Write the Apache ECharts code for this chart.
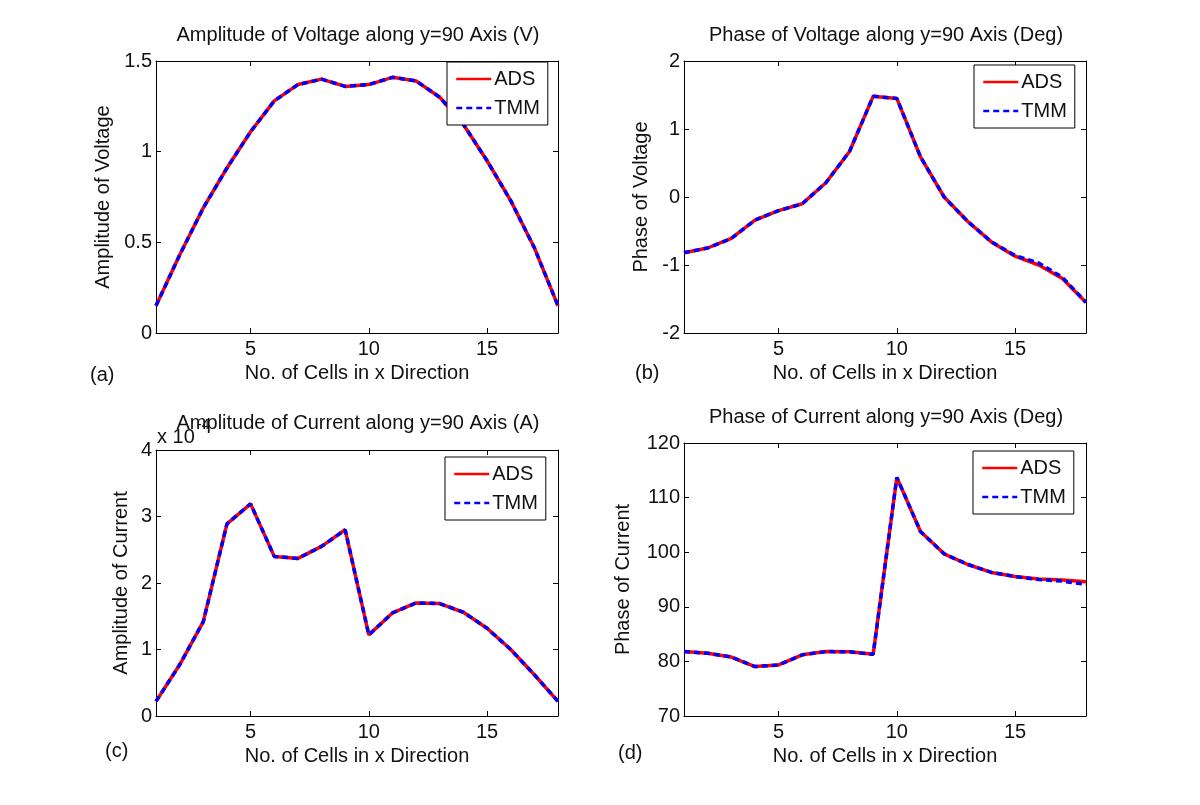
<!DOCTYPE html>
<html>
<head>
<meta charset="utf-8">
<script src="https://cdn.jsdelivr.net/npm/echarts@6/dist/echarts.min.js"></script>
<style>
html,body{margin:0;padding:0;background:#fff;}
#main{width:1200px;height:805px;}
</style>
</head>
<body>
<div id="main"></div>
<script>
// ---- data ----
const cells = [1,2,3,4,5,6,7,8,9,10,11,12,13,14,15,16,17,18];
const xTicks = [5,10,15];

// (a) Amplitude of Voltage (V)
const voltAmpADS = [0.15,0.43,0.69,0.91,1.11,1.28,1.37,1.40,1.36,1.37,1.41,1.39,1.30,1.15,0.95,0.73,0.47,0.15];
const voltAmpTMM = [0.15,0.43,0.69,0.91,1.11,1.28,1.37,1.40,1.36,1.37,1.41,1.39,1.30,1.15,0.95,0.73,0.47,0.15];

// (b) Phase of Voltage (Deg)
const voltPhaseADS = [-0.82,-0.75,-0.61,-0.34,-0.20,-0.10,0.21,0.67,1.48,1.45,0.59,0.00,-0.36,-0.66,-0.87,-1.00,-1.20,-1.55];
const voltPhaseTMM = [-0.82,-0.75,-0.61,-0.34,-0.20,-0.10,0.21,0.67,1.48,1.45,0.59,0.00,-0.36,-0.66,-0.86,-0.97,-1.18,-1.55];

// (c) Amplitude of Current (A), in units of 1e-4
const currAmpADS = [0.22,0.77,1.42,2.89,3.19,2.40,2.37,2.55,2.80,1.22,1.55,1.70,1.69,1.56,1.32,1.00,0.62,0.22];
const currAmpTMM = [0.22,0.77,1.42,2.89,3.19,2.40,2.37,2.55,2.80,1.22,1.55,1.70,1.69,1.56,1.32,1.00,0.62,0.22];

// (d) Phase of Current (Deg)
const currPhaseADS = [81.8,81.5,80.8,79.05,79.35,81.2,81.8,81.75,81.3,113.7,103.8,99.7,97.75,96.3,95.55,95.1,94.9,94.6];
const currPhaseTMM = [81.8,81.5,80.8,79.05,79.35,81.2,81.8,81.75,81.3,113.7,103.8,99.7,97.75,96.3,95.55,95.0,94.7,94.1];

const seriesNames = ['ADS','TMM'];
const titles = [
  'Amplitude of Voltage along y=90 Axis (V)',
  'Phase of Voltage along y=90 Axis (Deg)',
  'Amplitude of Current along y=90 Axis (A)',
  'Phase of Current along y=90 Axis (Deg)'
];
const yNames = ['Amplitude of Voltage','Phase of Voltage','Amplitude of Current','Phase of Current'];
const xName = 'No. of Cells in x Direction';
const panelLabels = ['(a)','(b)','(c)','(d)'];
const yRanges = [[0,1.5,0.5],[-2,2,1],[0,4,1],[70,120,10]];
const adsData = [voltAmpADS, voltPhaseADS, currAmpADS, currPhaseADS];
const tmmData = [voltAmpTMM, voltPhaseTMM, currAmpTMM, currPhaseTMM];

// ---- layout ----
const FONT = "'Liberation Sans', Arial, Helvetica, sans-serif";
const grids = [
  {left:156, top:61, width:402, height:272},
  {left:684, top:61, width:402, height:272},
  {left:156, top:450, width:402, height:266},
  {left:684, top:443, width:402, height:273}
];
const yNameGaps = [43, 33, 25, 51];
const titlePos = [[358,35],[886,35],[358,423],[886,417]];
const labelPos = [[90,375],[635,373],[105,751],[618,753]];
const legendPos = [[447,62],[974,65],[445,457],[973,451]];

const TXT = '#111';
const xAxes = [], yAxes = [], series = [], legends = [], graphics = [];
const axisLine = {show:true, onZero:false, lineStyle:{color:'#000', width:1}};

grids.forEach((g, i) => {
  const [ymin, ymax, yint] = yRanges[i];
  xAxes.push({
    type:'value', gridIndex:i, position:'bottom', min:1, max:18,
    axisLine: axisLine,
    axisTick:{show:true, inside:true, length:5, customValues:xTicks, lineStyle:{color:'#000'}},
    axisLabel:{show:true, customValues:xTicks, margin:6, fontSize:20, color:TXT, fontFamily:FONT},
    splitLine:{show:false},
    name:xName, nameLocation:'middle', nameGap:30,
    nameTextStyle:{fontSize:20, color:TXT, fontFamily:FONT}
  });
  xAxes.push({
    type:'value', gridIndex:i, position:'top', min:1, max:18,
    axisLine: axisLine,
    axisTick:{show:true, inside:true, length:5, customValues:xTicks, lineStyle:{color:'#000'}},
    axisLabel:{show:false}, splitLine:{show:false}
  });
  yAxes.push({
    type:'value', gridIndex:i, position:'left', min:ymin, max:ymax, interval:yint,
    axisLine: axisLine,
    axisTick:{show:true, inside:true, length:5, lineStyle:{color:'#000'}},
    axisLabel:{show:true, margin:4, fontSize:20, color:TXT, fontFamily:FONT},
    splitLine:{show:false},
    name:yNames[i], nameLocation:'middle', nameGap:yNameGaps[i], nameRotate:90,
    nameTextStyle:{fontSize:20, color:TXT, fontFamily:FONT}
  });
  yAxes.push({
    type:'value', gridIndex:i, position:'right', min:ymin, max:ymax, interval:yint,
    axisLine: axisLine,
    axisTick:{show:true, inside:true, length:5, lineStyle:{color:'#000'}},
    axisLabel:{show:false}, splitLine:{show:false}
  });

  series.push({
    name:seriesNames[0], type:'line', xAxisIndex:2*i, yAxisIndex:2*i,
    data: cells.map((c, k) => [c, adsData[i][k]]),
    symbol:'none', smooth:false, z:3,
    lineStyle:{color:'#ff0000', width:3.5, type:'solid'},
    itemStyle:{color:'#ff0000'}
  });
  series.push({
    name:seriesNames[1], type:'line', xAxisIndex:2*i, yAxisIndex:2*i,
    data: cells.map((c, k) => [c, tmmData[i][k]]),
    symbol:'none', smooth:false, z:4,
    lineStyle:{color:'#0000ff', width:3.5, type:[6,4]},
    itemStyle:{color:'#0000ff'}
  });

  legends.push({
    data:seriesNames, orient:'vertical', left:legendPos[i][0], top:legendPos[i][1],
    padding:[7,8,7,8], itemGap:9, itemWidth:35, itemHeight:14,
    backgroundColor:'#fff', borderColor:'#000', borderWidth:1, borderRadius:0,
    selectedMode:false, z:10,
    itemStyle:{color:'rgba(0,0,0,0)', borderWidth:0, borderColor:'rgba(0,0,0,0)', opacity:0},
    lineStyle:{width:2.5},
    textStyle:{fontSize:20, color:TXT, fontFamily:FONT, padding:[0,0,0,-2]}
  });

  graphics.push({
    type:'text', x:titlePos[i][0], y:titlePos[i][1], z:100,
    style:{text:titles[i], font:'20px ' + FONT, fill:TXT, textAlign:'center', textVerticalAlign:'middle'}
  });
  graphics.push({
    type:'text', x:labelPos[i][0], y:labelPos[i][1], z:100,
    style:{text:panelLabels[i], font:'20px ' + FONT, fill:TXT, textAlign:'left', textVerticalAlign:'middle'}
  });
});

// exponent label of panel (c)
graphics.push({
  type:'text', x:157, y:437, z:101,
  style:{text:'x 10', font:'20px ' + FONT, fill:TXT, textAlign:'left', textVerticalAlign:'middle'}
});
graphics.push({
  type:'text', x:197, y:425, z:101,
  style:{text:'-4', font:'14px ' + FONT, fill:TXT, textAlign:'left', textVerticalAlign:'middle'}
});

const chart = echarts.init(document.getElementById('main'), null, {renderer:'canvas'});
chart.setOption({
  backgroundColor:'#fff',
  animation:false,
  grid: grids.map(g => Object.assign({containLabel:false, show:false}, g)),
  xAxis: xAxes,
  yAxis: yAxes,
  legend: legends,
  series: series,
  graphic: graphics
});
</script>
</body>
</html>
